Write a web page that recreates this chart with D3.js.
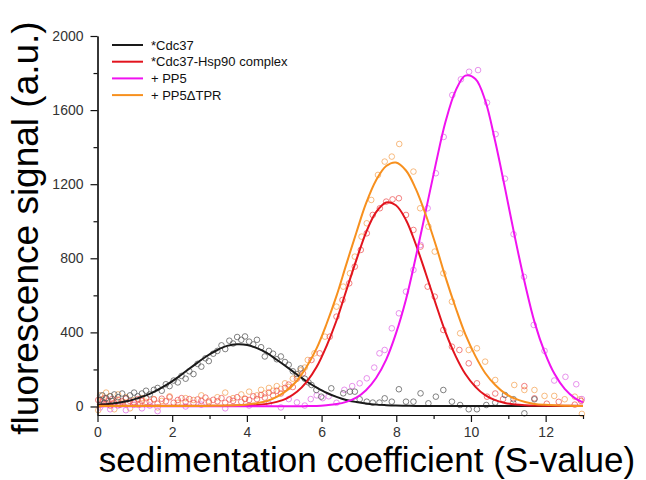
<!DOCTYPE html>
<html><head><meta charset="utf-8">
<script src="https://cdn.jsdelivr.net/npm/d3@7"></script>
<style>
html,body{margin:0;padding:0;background:#fff;}
svg{display:block;font-family:Arial,"Liberation Sans",sans-serif;}
</style></head>
<body><svg id="chart" width="646" height="480"></svg>
<script>
// ---------- DATA ----------
const seriesNames = ["*Cdc37", "*Cdc37-Hsp90 complex", "+ PP5", "+ PP5\u0394TPR"];
const xMajorTicks = [0, 2, 4, 6, 8, 10, 12];
const xMinorTicks = [1, 3, 5, 7, 9, 11, 13];
const yMajorTicks = [0, 400, 800, 1200, 1600, 2000];
const yMinorTicks = [200, 600, 1000, 1400, 1800];

// fitted curves sampled along x (S-value)
const fitX = [0,0.29,0.55,0.82,1.08,1.35,1.61,1.88,2.15,2.41,2.68,2.94,3.21,3.47,3.74,4.01,4.27,4.54,4.80,5.07,5.34,5.60,5.87,6.13,6.40,6.66,6.93,7.19,7.46,7.73,7.99,8.26,8.52,8.79,9.06,9.32,9.59,9.85,10.12,10.38,10.65,10.91,11.18,11.45,11.71,11.98,12.24,12.51,12.78,13.0];
const fitBlack = [9,13,20,30,45,64,90,121,157,197,237,274,305,327,336,332,315,288,252,213,173,135,102,74,52,35,24,16,10,7,5,4,3,3,3,3,3,3,3,3,3,3,3,3,3,3,3,3,3,3];
const fitRed = [4,4,4,4,4,4,4,4,4,4,4,4,4,4,5,6,8,14,25,44,79,133,214,325,464,625,790,939,1049,1101,1086,1007,877,718,552,400,272,175,106,61,34,19,11,7,5,4,4,4,4,4];
const fitMagenta = [1,1,1,1,1,1,1,1,1,1,1,1,1,1,1,1,1,1,1,1,1,2,3,7,13,25,48,88,154,253,393,578,804,1056,1311,1538,1705,1786,1768,1653,1430,1180,910,660,450,290,175,95,45,22];
const fitOrange = [3,3,3,3,3,3,3,3,3,3,3,3,4,5,7,11,18,30,52,87,139,214,315,444,597,766,938,1096,1221,1298,1317,1274,1176,1035,870,697,533,389,272,181,116,71,42,24,14,9,6,4,3,3];

// measured points [S-value, signal]
const ptsBlack = [[0.07,35],[0.13,60],[0.18,20],[0.23,45],[0.34,55],[0.39,30],[0.45,65],[0.55,50],[0.66,70],[0.76,45],[0.87,60],[0.98,75],[1.08,55],[1.19,70],[1.30,85],[1.40,65],[1.51,90],[1.61,100],[1.72,85],[1.83,120],[1.93,110],[2.04,140],[2.15,130],[2.25,165],[2.36,150],[2.46,190],[2.57,175],[2.68,230],[2.78,215],[2.89,260],[2.98,245],[3.10,285],[3.21,300],[3.32,330],[3.42,310],[3.53,355],[3.63,340],[3.74,375],[3.85,360],[3.95,378],[4.06,350],[4.17,335],[4.27,360],[4.38,320],[4.48,270],[4.59,300],[4.70,285],[4.80,255],[4.91,270],[5.02,240],[5.12,225],[5.23,190],[5.34,175],[5.44,205],[5.55,150],[5.65,130],[5.73,116],[5.86,89],[5.99,53],[6.26,98],[6.58,71],[6.76,80],[6.89,80],[7.02,39],[7.21,26],[7.37,21],[7.55,21],[7.69,44],[7.88,26],[8.07,93],[8.26,26],[8.46,26],[8.65,71],[8.86,17],[9.06,53],[9.26,89],[9.49,26],[9.71,8],[9.94,-15],[10.16,-15],[10.41,8],[10.65,21],[10.91,62],[11.14,39],[11.43,-37],[11.70,39]];
const ptsRed = [[0.02,35],[0.07,10],[0.13,25],[0.18,45],[0.23,15],[0.29,30],[0.34,5],[0.39,40],[0.45,20],[0.55,35],[0.60,10],[0.66,28],[0.76,42],[0.82,18],[0.87,30],[0.98,22],[1.08,40],[1.14,12],[1.19,30],[1.30,45],[1.40,25],[1.51,38],[1.61,15],[1.72,42],[1.83,28],[1.93,50],[2.04,20],[2.15,35],[2.25,45],[2.36,25],[2.46,40],[2.57,18],[2.68,38],[2.78,30],[2.89,48],[2.98,22],[3.10,36],[3.21,28],[3.32,45],[3.42,20],[3.53,38],[3.63,30],[3.74,50],[3.85,25],[3.95,42],[4.06,35],[4.17,55],[4.27,40],[4.38,62],[4.48,48],[4.59,75],[4.70,60],[4.80,85],[4.91,70],[5.02,100],[5.12,118],[5.23,105],[5.34,150],[5.50,179],[5.73,251],[5.95,287],[6.22,377],[6.40,485],[6.56,575],[6.74,665],[6.89,755],[7.05,845],[7.21,935],[7.37,1034],[7.56,1070],[7.73,1106],[7.90,1118],[8.07,1124],[8.26,1034],[8.46,953],[8.65,863],[8.84,647],[9.03,593],[9.26,413],[9.49,323],[9.69,305],[9.94,233],[10.16,125],[10.43,53],[10.65,70],[10.86,40],[11.13,20],[11.43,110],[11.70,44],[12.03,15],[12.35,25],[12.78,10],[12.95,30]];
const ptsMagenta = [[0.07,-5],[0.18,15],[0.34,-15],[0.55,5],[0.76,-20],[0.98,10],[1.19,-10],[1.40,5],[1.61,-25],[2.36,0],[2.78,10],[3.42,-10],[4.06,5],[4.59,15],[4.91,-5],[5.12,40],[5.34,22],[5.55,5],[5.71,40],[5.87,60],[6.03,45],[6.19,55],[6.40,20],[6.61,90],[6.82,110],[7.02,125],[7.21,152],[7.41,210],[7.55,287],[7.69,305],[7.88,422],[8.07,503],[8.26,620],[8.46,737],[8.65,872],[8.84,1070],[9.06,1259],[9.27,1455],[9.50,1681],[9.73,1766],[9.95,1807],[10.19,1816],[10.43,1640],[10.66,1470],[10.91,1230],[11.14,930],[11.42,700],[11.68,440],[11.97,300],[12.23,140],[12.53,160],[12.82,120],[12.97,40]];
const ptsOrange = [[0.02,-20],[0.07,60],[0.13,40],[0.23,75],[0.29,15],[0.34,55],[0.45,-15],[0.50,30],[0.55,65],[0.66,20],[0.76,50],[0.87,-10],[0.98,35],[1.08,10],[1.19,45],[1.30,25],[1.51,40],[1.61,-5],[1.72,30],[1.93,55],[2.15,20],[2.36,45],[2.57,35],[2.78,60],[2.98,30],[3.21,50],[3.42,75],[3.63,45],[3.85,65],[3.95,40],[4.06,80],[4.27,60],[4.38,90],[4.48,70],[4.59,100],[4.70,85],[4.80,110],[4.91,95],[5.02,125],[5.12,105],[5.23,150],[5.34,165],[5.44,195],[5.55,210],[5.63,251],[5.81,287],[6.09,377],[6.40,539],[6.58,647],[6.76,719],[6.89,809],[7.07,917],[7.21,989],[7.33,1115],[7.51,1250],[7.69,1322],[7.88,1349],[8.08,1417],[8.46,1268],[8.64,1070],[8.86,971],[9.03,836],[9.26,719],[9.49,566],[9.71,395],[9.94,305],[10.16,314],[10.38,242],[10.65,143],[11.16,116],[11.43,89],[11.70,89],[11.97,57],[12.23,57],[12.51,39],[12.78,53],[12.92,39],[12.97,-40]];

// ---------- STYLE ----------
const lineColors = ["#1a1a1a", "#e2141e", "#f012f0", "#f7901e"];
const dotColors  = ["#5a5a5a", "#ee5a5a", "#e070e6", "#f5a65a"];

const svg = d3.select("#chart");
const x = d3.scaleLinear().domain([0, 13]).range([97.5, 583]);
const y = d3.scaleLinear().domain([-46, 2000]).range([415, 36]);

// points
const pointSets = [ptsBlack, ptsRed, ptsMagenta, ptsOrange];
const drawOrder = [3, 2, 1, 0];
drawOrder.forEach(i => {
  svg.append("g").selectAll("circle").data(pointSets[i]).join("circle")
    .attr("cx", d => x(d[0])).attr("cy", d => y(d[1])).attr("r", 2.8)
    .attr("fill", "none").attr("stroke", dotColors[i]).attr("stroke-width", 0.9)
    .attr("stroke-opacity", 0.85);
});

// fit lines
const fits = [fitBlack, fitRed, fitMagenta, fitOrange];
const line = d3.line().x((d, k) => x(fitX[k])).y(d => y(d)).curve(d3.curveCatmullRom.alpha(0.5));
[0, 1, 2, 3].forEach(i => {
  svg.append("path").datum(fits[i]).attr("d", line)
    .attr("fill", "none").attr("stroke", lineColors[i]).attr("stroke-width", 2);
});

// axes
const gx = svg.append("g").attr("transform", "translate(0,415)");
gx.append("g").call(d3.axisBottom(x).tickValues(xMajorTicks).tickSize(7).tickSizeOuter(0).tickFormat(d3.format("d")));
gx.append("g").call(d3.axisBottom(x).tickValues(xMinorTicks).tickSize(4).tickSizeOuter(0).tickFormat(""));
const gy = svg.append("g").attr("transform", "translate(97.5,0)");
gy.append("g").call(d3.axisLeft(y).tickValues(yMajorTicks).tickSize(7).tickPadding(7).tickSizeOuter(0).tickFormat(d3.format("d")));
gy.append("g").call(d3.axisLeft(y).tickValues(yMinorTicks).tickSize(4).tickSizeOuter(0).tickFormat(""));
svg.selectAll(".domain").attr("stroke", "#111").attr("stroke-width", 1.2);
svg.selectAll(".tick line").attr("stroke", "#111").attr("stroke-width", 1.2);
svg.selectAll(".tick text").attr("font-size", 14).attr("fill", "#333").attr("font-family", "Arial, 'Liberation Sans', sans-serif");
gx.selectAll(".tick text").attr("dy", "0.85em");

// axis titles
svg.append("text").attr("x", 367).attr("y", 472).attr("text-anchor", "middle")
  .attr("font-size", 35).attr("fill", "#000").text("sedimentation coefficient (S-value)");
svg.append("text").attr("transform", "translate(38,228) rotate(-90)").attr("text-anchor", "middle")
  .attr("font-size", 37).attr("fill", "#000").text("fluorescence signal (a.u.)");

// legend
const lg = svg.append("g");
seriesNames.forEach((name, i) => {
  const yy = 45 + i * 16.7;
  lg.append("line").attr("x1", 112).attr("x2", 143).attr("y1", yy).attr("y2", yy)
    .attr("stroke", lineColors[i]).attr("stroke-width", 2);
  lg.append("text").attr("x", 151).attr("y", yy).attr("dy", "0.35em")
    .attr("font-size", 13).attr("fill", "#111").text(name);
});
</script></body></html>
